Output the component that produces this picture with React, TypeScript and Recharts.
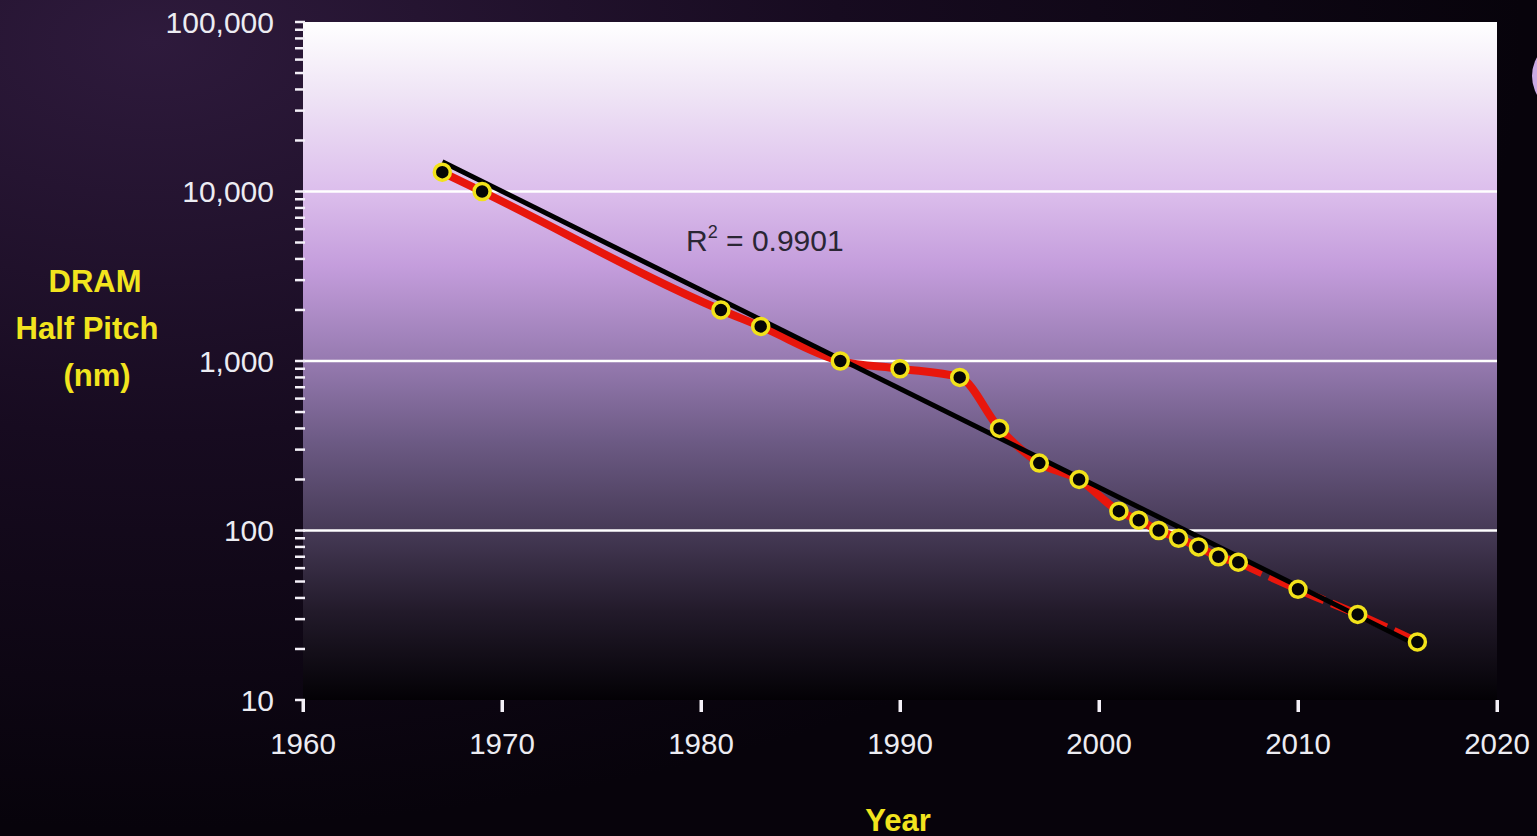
import React from 'react';
import { LineChart, Line, XAxis, YAxis, CartesianGrid, ReferenceLine } from 'recharts';

const years = [1967, 1969, 1981, 1983, 1987, 1990, 1993, 1995, 1997, 1999, 2001, 2002, 2003, 2004, 2005, 2006, 2007, 2010, 2013, 2016];
const halfPitch = [13000, 10000, 2000, 1600, 1000, 900, 800, 400, 250, 200, 130, 115, 100, 90, 80, 70, 65, 45, 32, 22];
const solidUntil = 2007;
const trendYears = [1967, 2016];
const trendValues = [15000, 21];
const xTicks = [1960, 1970, 1980, 1990, 2000, 2010, 2020];
const yMajor = [10, 100, 1000, 10000, 100000];
const yTicks: number[] = [];
yMajor.slice(0, 4).forEach((d) => {
  for (let k = 1; k < 10; k++) yTicks.push(d * k);
});
yTicks.push(100000);
const gridValues = [100, 1000, 10000];

const rows = years.map((yr, i) => {
  const ti = trendYears.indexOf(yr);
  return {
    year: yr,
    all: halfPitch[i],
    solid: yr <= solidUntil ? halfPitch[i] : null,
    dashed: yr >= solidUntil ? halfPitch[i] : null,
    trend: ti >= 0 ? trendValues[ti] : null,
  };
});

const fmt = (v: number) => v.toLocaleString('en-US');

const YTick = (props: any) => {
  const { x, y, payload } = props;
  const v = payload.value;
  const major = yMajor.includes(v);
  return (
    <g>
      <line x1={x - 8} x2={x + 2} y1={y} y2={y} stroke="#f4f0f8" strokeWidth={2.5} />
      {major && (
        <text x={x - 29} y={y} textAnchor="end" dominantBaseline="central" fill="#ececf2" fontSize={30} fontFamily="Liberation Sans, Arial, sans-serif">
          {fmt(v)}
        </text>
      )}
    </g>
  );
};

const XTick = (props: any) => {
  const { x, y, payload } = props;
  return (
    <g>
      <rect x={x - 1.5} y={y} width={3.5} height={12} fill="#f4f0f8" />
      <text x={x} y={y + 43} textAnchor="middle" dominantBaseline="central" fill="#ececf2" fontSize={29.5} fontFamily="Liberation Sans, Arial, sans-serif">
        {payload.value}
      </text>
    </g>
  );
};

const Marker = (props: any) => {
  const { cx, cy, index } = props;
  if (cx == null || cy == null) return <g key={index} />;
  return <circle key={index} cx={cx} cy={cy} r={8} fill="#050505" stroke="#f2e21a" strokeWidth={3.5} />;
};

export default function App() {
  return (
    <div
      style={{
        position: 'absolute',
        left: 0,
        top: 0,
        width: 1537,
        height: 836,
        overflow: 'hidden',
        background: 'radial-gradient(ellipse at 10% 5%, #2e1a3c 0%, #170b20 35%, #07030b 70%)',
        fontFamily: 'Liberation Sans, Arial, sans-serif',
      }}
    >
      <div
        style={{
          position: 'absolute',
          left: 1532,
          top: 38,
          width: 76,
          height: 76,
          borderRadius: '50%',
          background: '#c9a9e2',
        }}
      />
      <LineChart width={1537} height={836} data={rows} margin={{ top: 22, right: 40, left: 243, bottom: 106 }}>
        <defs>
          <linearGradient id="plotGrad" x1="0" y1="0" x2="0" y2="1">
            <stop offset="0" stopColor="#ffffff" />
            <stop offset="0.1" stopColor="#f0e6f6" />
            <stop offset="0.25" stopColor="#dcbeec" />
            <stop offset="0.36" stopColor="#c49ddc" />
            <stop offset="0.5" stopColor="#967ab0" />
            <stop offset="0.62" stopColor="#6c5a84" />
            <stop offset="0.75" stopColor="#463a56" />
            <stop offset="0.87" stopColor="#221a2a" />
            <stop offset="1" stopColor="#030105" />
          </linearGradient>
        </defs>
        <CartesianGrid fill="url(#plotGrad)" horizontal={false} vertical={false} stroke="none" />
        {gridValues.map((g) => (
          <ReferenceLine key={g} y={g} stroke="#ffffff" strokeWidth={2.5} />
        ))}
        <XAxis
          dataKey="year"
          type="number"
          domain={[1960, 2020]}
          ticks={xTicks}
          tickSize={0}
          tickMargin={0}
          axisLine={false}
          tickLine={false}
          tick={<XTick />}
          interval={0}
          allowDataOverflow
        />
        <YAxis
          scale="log"
          domain={[10, 100000]}
          ticks={yTicks}
          tickSize={0}
          tickMargin={0}
          axisLine={false}
          tickLine={false}
          tick={<YTick />}
          interval={0}
          allowDataOverflow
          width={60}
        />
        <Line dataKey="solid" type="monotone" stroke="#e8160c" strokeWidth={8} dot={false} activeDot={false} isAnimationActive={false} connectNulls={false} />
        <Line dataKey="dashed" type="monotone" stroke="#e8160c" strokeWidth={8} strokeDasharray="26 8" dot={false} activeDot={false} isAnimationActive={false} connectNulls={false} />
        <Line dataKey="all" type="monotone" stroke="none" dot={<Marker />} activeDot={false} isAnimationActive={false} />
        <Line dataKey="trend" type="linear" stroke="#000000" strokeWidth={5} dot={false} activeDot={false} connectNulls isAnimationActive={false} />
        <text x={686} y={251} fill="#2a2634" fontSize={30} fontFamily="Liberation Sans, Arial, sans-serif">
          R<tspan fontSize={18} dy={-13}>2</tspan>
          <tspan dy={13}> = 0.9901</tspan>
        </text>
      </LineChart>
      <svg width={1537} height={836} style={{ position: 'absolute', left: 0, top: 0, pointerEvents: 'none' }}>
        <g fill="#f2e41e" fontWeight="bold" fontSize={31} fontFamily="Liberation Sans, Arial, sans-serif" textAnchor="middle" dominantBaseline="central">
          <text x={95} y={281}>DRAM</text>
          <text x={87} y={328}>Half Pitch</text>
          <text x={97} y={375}>(nm)</text>
          <text x={898} y={820}>Year</text>
        </g>
      </svg>
    </div>
  );
}
